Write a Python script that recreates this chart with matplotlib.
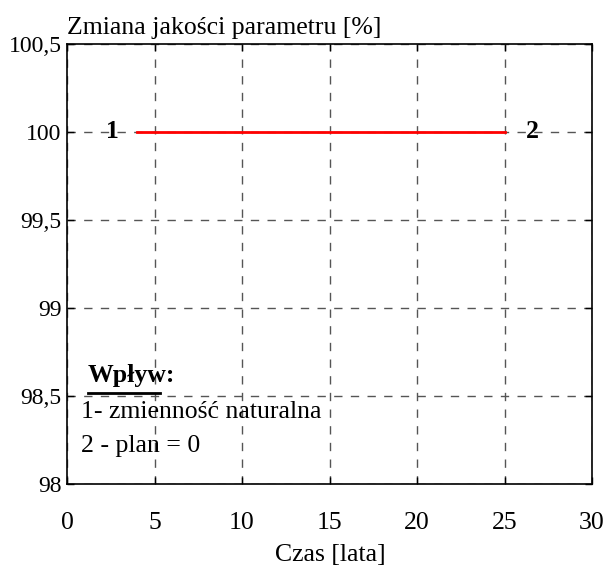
import matplotlib.pyplot as plt

# data
years = [4, 25]
quality = [100, 100]
x_ticks = [0, 5, 10, 15, 20, 25, 30]
y_ticks = [98, 98.5, 99, 99.5, 100, 100.5]
y_tick_labels = ["98", "98,5", "99", "99,5", "100", "100,5"]

plt.rcParams['font.family'] = ['Liberation Serif', 'DejaVu Serif']
fs = 18.5

fig = plt.figure(figsize=(6.04, 5.74), dpi=100)
ax = fig.add_axes([67 / 604, 90 / 574, 525 / 604, 440 / 574])

ax.plot(years, quality, color='red', linewidth=2, zorder=3)

ax.set_xlim(0, 30)
ax.set_ylim(98, 100.5)
ax.set_xticks(x_ticks)
ax.set_xticklabels([str(v) for v in x_ticks])
ax.set_yticks(y_ticks)
ax.set_yticklabels(y_tick_labels)
ax.tick_params(direction='in', length=5, width=1,
               top=True, right=True)
ax.tick_params(axis='x', pad=20, labelsize=fs)
ax.tick_params(axis='y', pad=4, labelsize=17)
ax.grid(True, color='#555555', linestyle=(0, (6, 6)), linewidth=1)

for sp in ax.spines.values():
    sp.set_linewidth(1.2)

# curve labels
ax.text(2.6, 100, "1", fontsize=fs, fontweight='bold', ha='center', va='center')
ax.text(26.6, 100, "2", fontsize=fs, fontweight='bold', ha='center', va='center')

# legend block
ax.text(1.2, 98.615, "Wpływ:", fontsize=fs, fontweight='bold', va='center')
ax.plot([1.2, 5.3], [98.515, 98.515], color='black', linewidth=2)
ax.text(0.8, 98.41, "1- zmienność naturalna", fontsize=fs, va='center')
ax.text(0.8, 98.216, "2 - plan = 0", fontsize=fs, va='center')

fig.text(67 / 604, 1 - 28 / 574, "Zmiana jakości parametru [%]", fontsize=fs,
         ha='left', va='center')
fig.text(330 / 604, 1 - 555 / 574, "Czas [lata]", fontsize=fs,
         ha='center', va='center')

fig.savefig("out.png", dpi=100)
